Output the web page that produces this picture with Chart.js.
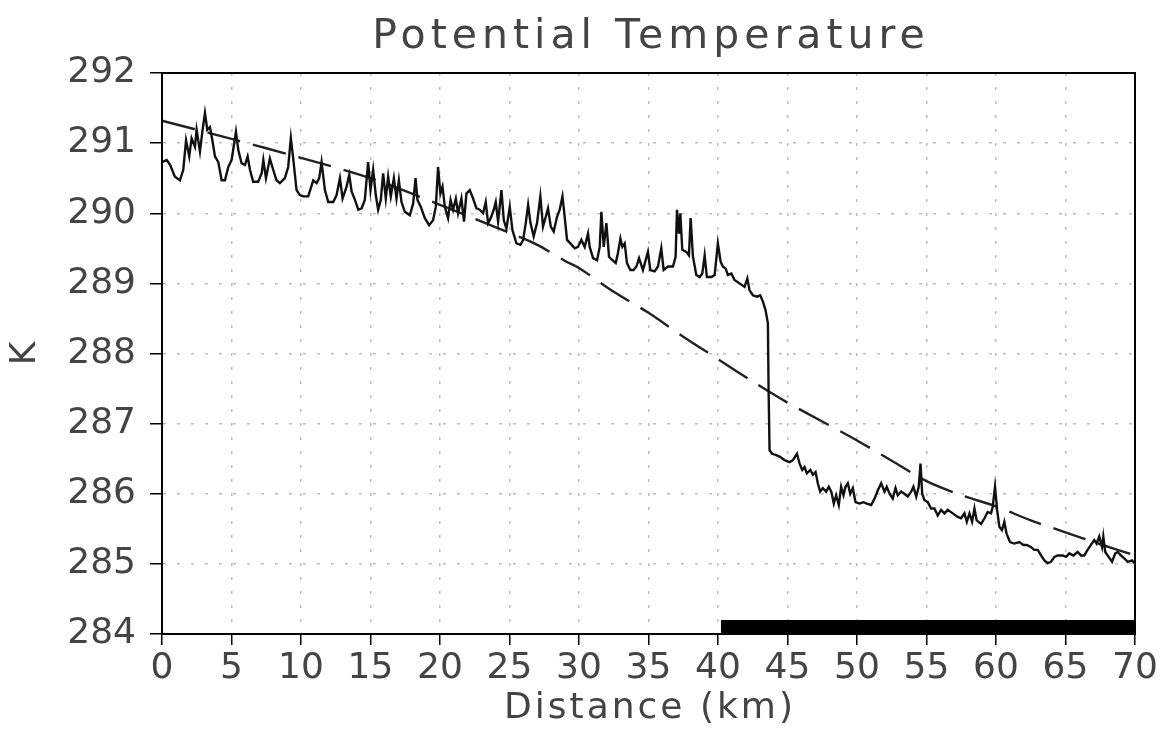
<!DOCTYPE html>
<html>
<head>
<meta charset="utf-8">
<script src="https://cdn.jsdelivr.net/npm/chart.js@4.4.1/dist/chart.umd.min.js"></script>
<style>
  html, body { margin: 0; padding: 0; background: #fff; }
  #wrap { width: 1166px; height: 729px; }
</style>
</head>
<body>
<div id="wrap"><canvas id="theta_chart" width="1166" height="729"></canvas></div>
<script>
// measured potential temperature along the track (km, K)
const dist_km = [
  0, 0.34, 0.58, 0.93, 1.29, 1.53, 1.73, 1.96, 2.13, 2.37, 2.49, 2.73, 2.92, 3.09, 3.26, 3.45, 3.64, 3.81, 4.05, 4.29,
  4.53, 4.77, 5.01, 5.32, 5.49, 5.73, 5.97, 6.16, 6.33, 6.56, 6.92, 7.17, 7.29, 7.48, 7.76, 8.0, 8.24, 8.48, 8.84, 9.08,
  9.27, 9.44, 9.68, 9.92, 10.16, 10.52, 10.88, 11.12, 11.31,
  11.48, 11.72, 11.96, 12.32, 12.56, 12.8, 12.99, 13.28, 13.47, 13.64, 13.88, 14.12, 14.36, 14.59, 14.83, 15.0, 15.19,
  15.38, 15.55, 15.74, 15.91, 16.1, 16.27, 16.46, 16.68, 16.87, 17.04, 17.23, 17.47, 17.83, 18.07, 18.24, 18.38, 18.62,
  18.91, 19.22, 19.5, 19.7, 19.86, 20.03, 20.18, 20.35, 20.58, 20.76, 20.94, 21.14, 21.3, 21.54, 21.73, 21.9, 22.14,
  22.38, 22.62, 22.86,
  23.1, 23.29, 23.46, 23.65, 23.87, 24.01, 24.18, 24.42, 24.59, 24.78, 25.02, 25.21, 25.5, 25.79, 25.98, 26.17, 26.34,
  26.51, 26.74, 26.98, 27.22, 27.41, 27.61, 27.77, 27.97, 28.18, 28.42, 28.61, 28.81, 28.97, 29.14, 29.38, 29.69, 29.93,
  30.17, 30.41, 30.65, 30.77, 31.01, 31.3, 31.49, 31.61, 31.78, 31.97, 32.16, 32.4, 32.64, 32.8, 32.98, 33.12, 33.29,
  33.45, 33.7, 33.93, 34.13, 34.32,
  34.6, 34.96, 35.13, 35.44, 35.68, 35.92, 36.09, 36.4, 36.76, 36.95, 37.05, 37.19, 37.29, 37.43, 37.72, 37.91, 38.03,
  38.2, 38.44, 38.68, 38.87, 39.04, 39.2, 39.52, 39.76, 39.99, 40.19, 40.35, 40.55, 40.71, 40.96, 41.19, 41.55, 41.91,
  42.11, 42.27, 42.51, 42.8, 43.04, 43.23, 43.42, 43.59, 43.64, 43.71, 43.9, 44.19, 44.43, 44.79, 45.15,
  45.39, 45.68, 45.87, 46.06, 46.23, 46.39, 46.64, 46.83, 47.02, 47.18, 47.35, 47.54, 47.78, 47.97, 48.15, 48.33, 48.5,
  48.69, 48.86, 49.03, 49.17, 49.34, 49.51, 49.7, 49.89, 50.18, 50.47, 50.7, 51.02, 51.26, 51.5, 51.74, 51.98, 52.14,
  52.34, 52.57, 52.77, 52.93, 53.18, 53.41, 53.65, 53.9, 54.06, 54.26, 54.44, 54.57, 54.69, 54.85, 55.09, 55.33, 55.57,
  55.81, 56.05, 56.29, 56.53, 56.89, 57.25,
  57.49, 57.73, 57.9, 58.09, 58.28, 58.45, 58.61, 58.93, 59.17, 59.4, 59.64, 59.76, 59.93, 60.08, 60.24, 60.43, 60.6,
  60.76, 61.01, 61.32, 61.68, 61.97, 62.21, 62.52, 62.76, 63.0, 63.24, 63.48, 63.72, 63.96, 64.2, 64.44, 64.8, 65.04,
  65.28, 65.56, 65.87, 66.12, 66.35, 66.59, 66.83, 67.07, 67.24, 67.43, 67.63, 67.72, 67.86, 68.1, 68.35, 68.58, 68.75,
  68.99, 69.23, 69.47, 69.79, 69.95
];
const theta_k = [
  290.73, 290.76, 290.69, 290.52, 290.47, 290.62, 291.04, 290.81, 291.07, 290.95, 291.19, 290.88, 291.19, 291.43, 291.19,
  291.23, 291.02, 290.81, 290.73, 290.47, 290.47, 290.66, 290.76, 291.16, 290.90, 290.71, 290.69, 290.81, 290.62, 290.45,
  290.45, 290.57, 290.76, 290.50, 290.78, 290.62, 290.47, 290.43, 290.50, 290.66, 291.07, 290.78, 290.33, 290.26, 290.24,
  290.24, 290.47, 290.43, 290.50,
  290.73, 290.33, 290.16, 290.16, 290.26, 290.50, 290.21, 290.38, 290.55, 290.31, 290.19, 290.05, 290.07, 290.19, 290.73,
  290.33, 290.62, 290.26, 290.05, 290.19, 290.57, 290.21, 290.52, 290.24, 290.50, 290.21, 290.47, 290.16, 290.02, 289.97,
  290.14, 290.50, 290.19, 290.09, 289.93, 289.83, 289.90, 290.09, 290.66, 290.28, 290.38, 290.09, 289.93, 290.19, 290.05,
  290.21, 290.00, 290.21, 289.88, 290.28, 290.33, 290.21, 290.07, 290.05,
  290.00, 290.16, 289.86, 289.93, 290.05, 290.16, 289.88, 290.33, 289.90, 289.78, 290.09, 289.76, 289.57, 289.55, 289.62,
  289.86, 290.12, 289.86, 289.67, 289.86, 290.24, 289.81, 289.95, 290.07, 289.81, 289.74, 289.95, 290.05, 290.24, 289.95,
  289.62, 289.57, 289.50, 289.52, 289.62, 289.52, 289.71, 289.52, 289.36, 289.33, 289.52, 290.02, 289.52, 289.86, 289.38,
  289.33, 289.29, 289.43, 289.64, 289.52, 289.57, 289.29, 289.19, 289.19, 289.24, 289.36,
  289.19, 289.45, 289.19, 289.17, 289.24, 289.50, 289.19, 289.24, 289.24, 289.38, 290.05, 289.71, 290.00, 289.48, 289.45,
  289.40, 289.93, 289.38, 289.12, 289.09, 289.14, 289.40, 289.09, 289.09, 289.12, 289.57, 289.31, 289.24, 289.21, 289.12,
  289.14, 289.05, 289.00, 288.95, 289.07, 288.90, 288.83, 288.81, 288.83, 288.74, 288.62, 288.43, 287.48, 286.62, 286.57,
  286.55, 286.53, 286.48, 286.45,
  286.48, 286.57, 286.43, 286.34, 286.38, 286.29, 286.34, 286.27, 286.31, 286.15, 286.03, 286.08, 286.03, 286.10, 286.03,
  285.86, 285.98, 285.84, 286.10, 285.98, 286.10, 286.15, 286.00, 286.08, 285.88, 285.86, 285.88, 285.86, 285.84, 285.93,
  286.05, 286.15, 286.03, 286.10, 286.00, 285.93, 286.08, 285.98, 286.03, 286.00, 285.96, 286.03, 286.10, 285.96, 286.10,
  286.43, 286.00, 285.91, 285.88, 285.79, 285.79, 285.69, 285.77, 285.72, 285.77, 285.72, 285.67,
  285.65, 285.72, 285.60, 285.72, 285.60, 285.79, 285.62, 285.57, 285.65, 285.74, 285.72, 285.81, 286.10, 285.77, 285.53,
  285.48, 285.60, 285.43, 285.31, 285.29, 285.31, 285.27, 285.27, 285.24, 285.20, 285.20, 285.12, 285.05, 285.01, 285.03,
  285.10, 285.12, 285.12, 285.10, 285.15, 285.12, 285.17, 285.12, 285.12, 285.20, 285.27, 285.34, 285.29, 285.39, 285.24,
  285.39, 285.17, 285.10, 285.03, 285.15, 285.17, 285.12, 285.08, 285.03, 285.05, 285.01
];

// smooth reference curve (dashed)
const ref_km = [0, 5, 10, 15, 20, 25, 27, 29, 30, 32.5, 35, 37.5, 40, 42.5, 45, 47.5, 50, 52.5, 55, 57.5, 60, 62.5, 65, 67.5, 70];
const ref_k = [291.32, 291.06, 290.79, 290.50, 290.12, 289.72, 289.55, 289.32, 289.22, 288.88, 288.58, 288.24, 287.92,
  287.60, 287.30, 287.03, 286.76, 286.47, 286.18, 285.98, 285.82, 285.62, 285.45, 285.28, 285.12];

// black bar along the bottom
const bar_km = [40.2, 70];
const bar_top = 284.2;

const x_min = 0, x_max = 70, x_step = 5;
const y_min = 284, y_max = 292, y_step = 1;

const chart_title = "Potential Temperature";
const x_title = "Distance (km)";

const font_name = "'DejaVu Sans', sans-serif";
const text_color = "#444";

// box round the plot, plus spaced-out title texts
const frame_plugin = {
  id: "frame",
  afterDatasetsDraw(chart) {
    const a = chart.chartArea;
    const ctx = chart.ctx;
    ctx.save();
    ctx.strokeStyle = "#000";
    ctx.lineWidth = 2;
    ctx.strokeRect(a.left, a.top, a.right - a.left, a.bottom - a.top);
    ctx.restore();
  },
  afterDraw(chart) {
    const a = chart.chartArea;
    const ctx = chart.ctx;
    const mid = (a.left + a.right) / 2;
    ctx.save();
    ctx.fillStyle = text_color;
    ctx.textAlign = "center";
    ctx.textBaseline = "alphabetic";
    ctx.font = "41px " + font_name;
    ctx.letterSpacing = "5px";
    ctx.fillText(chart_title, mid + 2.5, 48);
    ctx.font = "36px " + font_name;
    ctx.letterSpacing = "3px";
    ctx.fillText(x_title, mid + 1.5, 718);
    ctx.restore();
  },
};

const theta_ctx = document.getElementById("theta_chart");

const theta_chart = new Chart(theta_ctx, {
  type: "line",
  data: {
    datasets: [
      {
        label: "measured",
        data: dist_km.map((d, i) => ({ x: d, y: theta_k[i] })),
        borderColor: "#111",
        borderWidth: 2.4,
        pointRadius: 0,
        tension: 0,
      },
      {
        label: "reference",
        data: ref_km.map((d, i) => ({ x: d, y: ref_k[i] })),
        borderColor: "#222",
        borderWidth: 2.4,
        borderDash: [34, 13],
        pointRadius: 0,
        tension: 0.3,
      },
      {
        label: "bar",
        data: bar_km.map((d) => ({ x: d, y: bar_top })),
        borderWidth: 0,
        borderColor: "rgba(0,0,0,0)",
        backgroundColor: "#000",
        fill: "start",
        pointRadius: 0,
      },
    ],
  },
  options: {
    responsive: false,
    animation: false,
    devicePixelRatio: 1,
    layout: { padding: { left: 0, right: 31, top: 73, bottom: 0 } },
    plugins: {
      legend: { display: false },
      tooltip: { enabled: false },
      title: { display: false },
    },
    scales: {
      x: {
        type: "linear",
        min: x_min,
        max: x_max,
        ticks: {
          stepSize: x_step,
          autoSkip: false,
          maxRotation: 0,
          color: text_color,
          padding: 2,
          font: { family: font_name, size: 36 },
        },
        grid: {
          color: "#bdbdbd",
          lineWidth: 1.5,
          tickColor: "#000",
          tickLength: 11,
          tickWidth: 1.5,
        },
        border: { display: true, color: "#000", width: 2, dash: [3, 11] },
        afterFit: (s) => { s.height = 95; },
      },
      y: {
        min: y_min,
        max: y_max,
        ticks: {
          stepSize: y_step,
          color: text_color,
          padding: 14,
          font: { family: font_name, size: 36 },
        },
        grid: {
          color: "#bdbdbd",
          lineWidth: 1.5,
          tickColor: "#000",
          tickLength: 12,
          tickWidth: 1.5,
        },
        border: { display: true, color: "#000", width: 2, dash: [3, 11] },
        title: {
          display: true,
          text: "K",
          color: text_color,
          font: { family: font_name, size: 36 },
          padding: { top: 4, bottom: 0 },
        },
        afterFit: (s) => { s.width = 162; },
      },
    },
  },
  plugins: [frame_plugin],
});
</script>
</body>
</html>
